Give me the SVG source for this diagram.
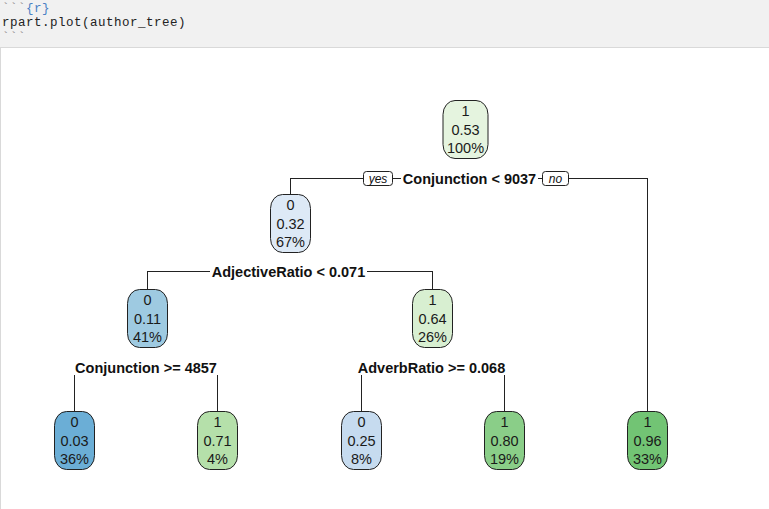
<svg xmlns="http://www.w3.org/2000/svg" width="769" height="509" viewBox="0 0 769 509">
  <style>
    .code { font-family: "Liberation Mono", "DejaVu Sans Mono", monospace; font-size: 12.5px; letter-spacing: 0.5px; }
    .tick { fill: #8a8a8a; }
    .lang { fill: #4a80c4; }
    .src { fill: #222; }
    .node rect { stroke: #222; stroke-width: 1; }
    .node text { font-family: "Liberation Sans", Arial, sans-serif; font-size: 14.5px; fill: #1a1a1a; text-anchor: middle; }
    .split { font-family: "Liberation Sans", Arial, sans-serif; font-size: 14.5px; font-weight: bold; fill: #111; text-anchor: middle; }
    .edge { font-family: "Liberation Sans", Arial, sans-serif; font-size: 12px; font-style: italic; fill: #111; text-anchor: middle; }
    .edgebox { fill: #fff; stroke: #222; stroke-width: 1; }
    .conn line { stroke: #222; stroke-width: 1; }
  </style>

  <!-- code chunk header -->
  <rect x="0" y="0" width="769" height="47" fill="#f1f1f1"/>
  <text class="code" x="2" y="12"><tspan class="tick">```</tspan><tspan class="lang">{r}</tspan></text>
  <text class="code src" x="2" y="26">rpart.plot(author_tree)</text>
  <text class="code tick" x="2" y="41">```</text>

  <!-- output panel -->
  <rect x="0" y="47" width="769" height="462" fill="#fff"/>
  <line x1="0" y1="47.5" x2="769" y2="47.5" stroke="#d9d9d9"/>
  <line x1="0.5" y1="47" x2="0.5" y2="509" stroke="#d9d9d9"/>

  <!-- branches -->
  <g id="connectors" class="conn">
    <!-- root split -->
    <line x1="290.5" y1="178.5" x2="363" y2="178.5"/>
    <line x1="393" y1="178.5" x2="401" y2="178.5"/>
    <line x1="538" y1="178.5" x2="542" y2="178.5"/>
    <line x1="569" y1="178.5" x2="647.5" y2="178.5"/>
    <line x1="290.5" y1="178" x2="290.5" y2="194"/>
    <line x1="647.5" y1="178" x2="647.5" y2="411"/>
    <!-- AdjectiveRatio split -->
    <line x1="147.5" y1="271.5" x2="210" y2="271.5"/>
    <line x1="367" y1="271.5" x2="432.5" y2="271.5"/>
    <line x1="147.5" y1="271" x2="147.5" y2="289"/>
    <line x1="432.5" y1="271" x2="432.5" y2="289"/>
    <!-- Conjunction >= 4857 split -->
    <line x1="74.5" y1="375" x2="74.5" y2="411"/>
    <line x1="217.5" y1="375" x2="217.5" y2="411"/>
    <!-- AdverbRatio split -->
    <line x1="361.5" y1="375" x2="361.5" y2="411"/>
    <line x1="504.5" y1="375" x2="504.5" y2="411"/>
  </g>

  <!-- split labels -->
  <g id="split-labels">
    <rect class="edgebox" x="363.5" y="171.5" width="29" height="14" rx="3"/>
    <text class="edge" x="378" y="183">yes</text>
    <text class="split" x="469.5" y="183.5">Conjunction &lt; 9037</text>
    <rect class="edgebox" x="542.5" y="171.5" width="26" height="14" rx="3"/>
    <text class="edge" x="555.5" y="183">no</text>
    <text class="split" x="288.5" y="276.5">AdjectiveRatio &lt; 0.071</text>
    <text class="split" x="146" y="372.5">Conjunction &gt;= 4857</text>
    <text class="split" x="431.5" y="372.5">AdverbRatio &gt;= 0.068</text>
  </g>

  <!-- nodes -->
  <g id="node1" class="node">
    <rect x="443" y="100.5" width="45" height="58" rx="12" ry="14" fill="#e5f4df"/>
    <text x="465.5" y="116">1</text><text x="465.5" y="135">0.53</text><text x="465.5" y="153">100%</text>
  </g>
  <g id="node2" class="node">
    <rect x="270.5" y="194.5" width="40" height="58" rx="12" ry="14" fill="#dde9f6"/>
    <text x="290.5" y="210">0</text><text x="290.5" y="229">0.32</text><text x="290.5" y="247">67%</text>
  </g>
  <g id="node3" class="node">
    <rect x="627.5" y="411.5" width="40" height="58" rx="12" ry="14" fill="#72c474"/>
    <text x="647.5" y="427">1</text><text x="647.5" y="446">0.96</text><text x="647.5" y="464">33%</text>
  </g>
  <g id="node4" class="node">
    <rect x="127.5" y="289.5" width="40" height="58" rx="12" ry="14" fill="#9ecae1"/>
    <text x="147.5" y="305">0</text><text x="147.5" y="324">0.11</text><text x="147.5" y="342">41%</text>
  </g>
  <g id="node5" class="node">
    <rect x="412.5" y="289.5" width="40" height="58" rx="12" ry="14" fill="#d8efd1"/>
    <text x="432.5" y="305">1</text><text x="432.5" y="324">0.64</text><text x="432.5" y="342">26%</text>
  </g>
  <g id="node8" class="node">
    <rect x="54.5" y="411.5" width="40" height="58" rx="12" ry="14" fill="#6baed6"/>
    <text x="74.5" y="427">0</text><text x="74.5" y="446">0.03</text><text x="74.5" y="464">36%</text>
  </g>
  <g id="node9" class="node">
    <rect x="197.5" y="411.5" width="40" height="58" rx="12" ry="14" fill="#b5e0aa"/>
    <text x="217.5" y="427">1</text><text x="217.5" y="446">0.71</text><text x="217.5" y="464">4%</text>
  </g>
  <g id="node10" class="node">
    <rect x="341.5" y="411.5" width="40" height="58" rx="12" ry="14" fill="#c6dbef"/>
    <text x="361.5" y="427">0</text><text x="361.5" y="446">0.25</text><text x="361.5" y="464">8%</text>
  </g>
  <g id="node11" class="node">
    <rect x="484.5" y="411.5" width="40" height="58" rx="12" ry="14" fill="#8ace88"/>
    <text x="504.5" y="427">1</text><text x="504.5" y="446">0.80</text><text x="504.5" y="464">19%</text>
  </g>
</svg>
